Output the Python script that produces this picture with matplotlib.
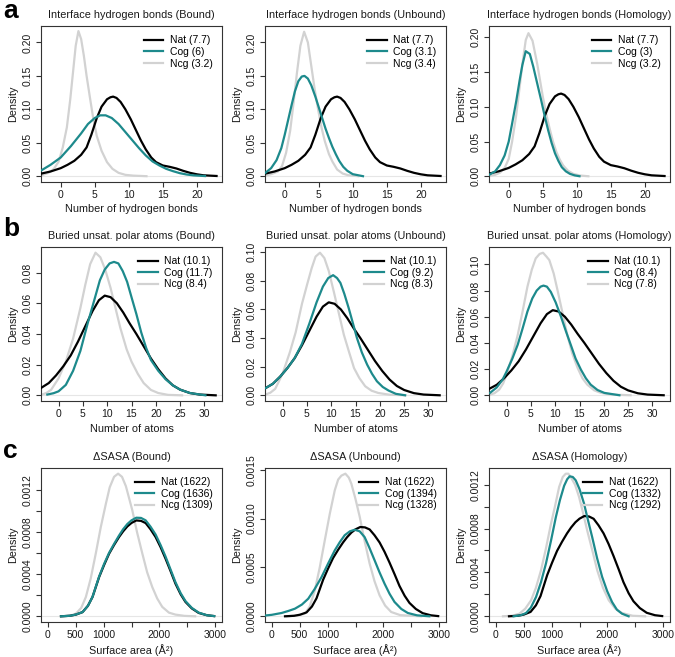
import numpy as np
import matplotlib.pyplot as plt

plt.rcParams['font.family'] = ['Liberation Sans', 'DejaVu Sans']

NAT_COL = 'black'
COG_COL = '#1d8a8c'
NCG_COL = '#d2d2d2'

# ---- row a: interface hydrogen bonds ----
hb_nat_x = [-2.8, -1.5, 0, 1, 2, 3, 3.8, 4.5, 5.3, 6, 6.8, 7.3, 7.7, 8.2, 8.8, 9.5, 10.3, 11,
            11.8, 12.5, 13.3, 14, 15, 16, 17, 18, 19, 20, 21, 22.9]
hb_nat_y = [0.004, 0.007, 0.012, 0.017, 0.023, 0.032, 0.043, 0.062, 0.087, 0.104, 0.115, 0.118,
            0.119, 0.117, 0.111, 0.100, 0.085, 0.070, 0.053, 0.040, 0.028, 0.021, 0.016, 0.014,
            0.0115, 0.008, 0.005, 0.0028, 0.0013, 0.0003]

hb_cog_bound_x = [-2.8, -1.5, 0, 1.5, 3, 4, 5, 5.8, 6.6, 7.5, 8.5, 9.5, 10.5, 11.5, 12.5, 13.5,
                  14.5, 15.5, 16.5, 17.5, 18.5, 19.5, 21.2]
hb_cog_bound_y = [0.009, 0.017, 0.028, 0.045, 0.064, 0.078, 0.087, 0.091, 0.091, 0.087, 0.078,
                  0.066, 0.054, 0.042, 0.031, 0.022, 0.016, 0.011, 0.0075, 0.0045, 0.0025,
                  0.0012, 0.0002]
hb_ncg_bound_x = [-2.8, -1.8, -1, -0.3, 0.3, 0.9, 1.4, 1.8, 2.2, 2.6, 3.0, 3.4, 3.8, 4.3, 4.8,
                  5.3, 6, 6.8, 7.6, 8.5, 9.5, 10.7, 12.6]
hb_ncg_bound_y = [0.0015, 0.005, 0.011, 0.022, 0.043, 0.073, 0.115, 0.155, 0.195, 0.217, 0.205,
                  0.180, 0.150, 0.117, 0.085, 0.060, 0.038, 0.021, 0.011, 0.005, 0.002, 0.0008, 0.0]

hb_cog_unbound_x = [-2.85, -2, -1.2, -0.5, 0, 0.5, 1, 1.5, 2, 2.5, 2.9, 3.4, 3.9, 4.5, 5, 5.5,
                    6, 6.5, 7, 7.5, 8, 8.6, 9.2, 10, 11.5]
hb_cog_unbound_y = [0.005, 0.012, 0.024, 0.042, 0.062, 0.084, 0.106, 0.127, 0.142, 0.149, 0.150,
                    0.146, 0.136, 0.119, 0.103, 0.087, 0.071, 0.057, 0.044, 0.033, 0.023, 0.014,
                    0.008, 0.003, 0.0]
hb_ncg_unbound_x = [-2.85, -2, -1, -0.4, 0.2, 0.8, 1.3, 1.8, 2.3, 2.85, 3.4, 3.9, 4.4, 4.9, 5.4,
                    5.9, 6.5, 7, 7.7, 8.5, 9.3, 10.8]
hb_ncg_unbound_y = [0.001, 0.003, 0.007, 0.015, 0.035, 0.068, 0.110, 0.155, 0.195, 0.216, 0.200,
                    0.165, 0.130, 0.100, 0.073, 0.052, 0.033, 0.022, 0.010, 0.004, 0.0015, 0.0]

hb_cog_homol_x = [-2.9, -2, -1.3, -0.6, 0, 0.5, 1.1, 1.6, 2, 2.5, 3.1, 3.6, 4.2, 4.8, 5.3, 5.8,
                  6.3, 6.8, 7.3, 7.8, 8.4, 9, 9.7, 10.4]
hb_cog_homol_y = [0.002, 0.007, 0.016, 0.030, 0.050, 0.076, 0.108, 0.138, 0.160, 0.180, 0.176,
                  0.158, 0.133, 0.108, 0.086, 0.066, 0.048, 0.033, 0.022, 0.013, 0.007, 0.0034,
                  0.0012, 0.0]
hb_ncg_homol_x = [-2.9, -2, -1.3, -0.6, 0, 0.5, 1.1, 1.6, 2, 2.5, 2.9, 3.5, 4.2, 5, 5.5, 6, 6.5,
                  7, 7.5, 8, 8.7, 9.5, 10.5, 11.7]
hb_ncg_homol_y = [0.0005, 0.002, 0.005, 0.012, 0.025, 0.050, 0.088, 0.128, 0.161, 0.196, 0.206,
                  0.195, 0.161, 0.115, 0.090, 0.069, 0.050, 0.035, 0.024, 0.0155, 0.008, 0.0034,
                  0.001, 0.0]

# ---- row b: buried unsatisfied polar atoms ----
bu_nat_x = [-3.5, -2, -0.5, 1, 2.5, 4, 5.5, 7, 8.3, 9.5, 10.7, 12, 13.3, 14.6, 16, 17.5, 19,
            20.5, 22, 23.5, 25, 27, 29, 32.3]
bu_nat_y = [0.005, 0.008, 0.013, 0.019, 0.026, 0.035, 0.045, 0.055, 0.062, 0.065, 0.064, 0.060,
            0.054, 0.047, 0.040, 0.032, 0.024, 0.017, 0.011, 0.0065, 0.0037, 0.0015, 0.0005, 0.0]

bu_cog_bound_x = [-2.3, -1, 0, 1.5, 3, 4.5, 6, 7.3, 8.5, 9.5, 10.5, 11.4, 12.3, 13.2, 14.1, 15,
                  16, 17, 18, 19, 20.5, 22, 23.5, 25, 27, 30.2]
bu_cog_bound_y = [0.0005, 0.0014, 0.0026, 0.0068, 0.016, 0.029, 0.047, 0.0615, 0.075, 0.082,
                  0.086, 0.087, 0.086, 0.081, 0.074, 0.064, 0.053, 0.041, 0.031, 0.023, 0.016,
                  0.0105, 0.0065, 0.0037, 0.0015, 0.0]
bu_ncg_bound_x = [-3.5, -2.5, -1.5, 0, 1.5, 3, 4.5, 5.5, 6.5, 7.6, 8.6, 9.6, 10.7, 11.7, 12.7,
                  14, 15, 16.3, 17.5, 19, 20.5, 22.5, 25.4]
bu_ncg_bound_y = [0.0004, 0.0015, 0.0037, 0.011, 0.022, 0.037, 0.057, 0.072, 0.0855, 0.093,
                  0.090, 0.082, 0.070, 0.057, 0.044, 0.030, 0.022, 0.014, 0.008, 0.0035, 0.0015,
                  0.0003, 0.0]

bu_cog_unbound_x = [-3.5, -2, -0.5, 1, 2.5, 4, 5.5, 7, 8.3, 9.4, 10.4, 11.2, 11.9, 12.7, 13.6,
                    14.5, 15.3, 16.3, 17.4, 18.4, 19.4, 20.6, 21.8, 23.3, 25.2]
bu_cog_unbound_y = [0.005, 0.008, 0.013, 0.019, 0.026, 0.036, 0.050, 0.065, 0.076, 0.082, 0.084,
                    0.082, 0.0786, 0.071, 0.061, 0.050, 0.040, 0.030, 0.0214, 0.015, 0.0098,
                    0.0058, 0.0033, 0.001, 0.0]
bu_ncg_unbound_x = [-3.5, -2.5, -1.5, 0, 1.5, 2.7, 4, 5.1, 6, 6.8, 7.7, 8.6, 9.5, 10.6, 11.6,
                    12.6, 13.7, 14.7, 15.8, 17, 18.3, 19.7, 22, 25.2]
bu_ncg_unbound_y = [0.0005, 0.0018, 0.0045, 0.0150, 0.030, 0.044, 0.064, 0.078, 0.089, 0.097,
                    0.0997, 0.096, 0.087, 0.0716, 0.057, 0.0424, 0.030, 0.019, 0.012, 0.0063,
                    0.0032, 0.0016, 0.0004, 0.0]

bu_cog_homol_x = [-3.4, -2, -0.8, 0, 1.2, 2.3, 3.3, 4.3, 5.3, 6.2, 7, 7.6, 8.3, 9.1, 10.1, 11.2,
                  12.2, 13.2, 14.2, 15.3, 16.3, 17.3, 18.7, 20.1, 23.2]
bu_cog_homol_y = [0.0018, 0.006, 0.012, 0.018, 0.028, 0.0386, 0.051, 0.064, 0.074, 0.080, 0.083,
                  0.0838, 0.083, 0.079, 0.071, 0.060, 0.049, 0.0386, 0.028, 0.0195, 0.013,
                  0.0081, 0.004, 0.0018, 0.0]
bu_ncg_homol_x = [-3.4, -2.5, -1.5, -0.7, 0, 1.2, 2.3, 3.3, 4.3, 5.2, 6, 6.8, 7.5, 8.2, 8.8, 9.7,
                  10.5, 11.5, 12.5, 13.5, 14.6, 15.6, 16.6, 18, 19.4, 21.5, 25.5]
bu_ncg_homol_y = [0.0005, 0.0015, 0.0043, 0.009, 0.0157, 0.030, 0.046, 0.064, 0.083, 0.096,
                  0.1046, 0.108, 0.1089, 0.106, 0.1033, 0.093, 0.080, 0.063, 0.046, 0.032, 0.021,
                  0.013, 0.0081, 0.0038, 0.0018, 0.0005, 0.0]

# ---- row c: delta SASA (densities in units of 1e-4) ----
sa_nat_x = [238, 400, 505, 624, 720, 802, 921, 1010, 1099, 1188, 1277, 1350, 1426, 1500, 1586,
            1670, 1753, 1840, 1931, 2020, 2109, 2200, 2287, 2380, 2466, 2580, 2703, 2850, 2980]
sa_nat_y = [0.0, 0.05, 0.16, 0.4, 1.0, 1.84, 3.75, 4.9, 5.97, 6.8, 7.56, 8.1, 8.57, 8.9, 9.14,
            9.1, 8.89, 8.3, 7.56, 6.6, 5.5, 4.3, 3.11, 2.1, 1.37, 0.75, 0.32, 0.1, 0.02]

sa_cog_bound_x = sa_nat_x
sa_cog_bound_y = [0.0, 0.05, 0.17, 0.4, 1.0, 1.85, 3.8, 5.0, 6.05, 6.9, 7.7, 8.3, 8.8, 9.15, 9.4,
                  9.38, 9.15, 8.55, 7.8, 6.8, 5.7, 4.45, 3.25, 2.2, 1.45, 0.8, 0.35, 0.1, 0.02]
sa_ncg_bound_x = [238, 400, 505, 600, 683, 770, 861, 950, 1040, 1110, 1188, 1260, 1330, 1400,
                  1515, 1600, 1693, 1780, 1871, 1960, 2050, 2170, 2287, 2450, 2640]
sa_ncg_bound_y = [0.0, 0.05, 0.25, 0.8, 1.84, 3.6, 6.0, 8.5, 10.7, 12.3, 13.3, 13.6, 13.3, 12.4,
                  10.1, 8.0, 6.0, 4.2, 2.8, 1.7, 0.9, 0.35, 0.16, 0.04, 0.0]

sa_cog_unbound_x = [-130, 0, 178, 300, 416, 540, 654, 770, 891, 1010, 1129, 1220, 1307, 1400,
                    1485, 1575, 1664, 1750, 1842, 1930, 2020, 2110, 2198, 2320, 2436, 2600, 2822]
sa_cog_unbound_y = [0.07, 0.15, 0.34, 0.55, 0.78, 1.2, 1.8, 2.8, 4.0, 5.4, 6.75, 7.6, 8.3, 8.7,
                    8.86, 8.7, 8.1, 7.0, 5.73, 4.5, 3.34, 2.3, 1.47, 0.75, 0.34, 0.1, 0.0]
sa_ncg_unbound_x = [267, 450, 594, 680, 772, 860, 951, 1040, 1129, 1190, 1248, 1319, 1380, 1426,
                    1500, 1575, 1660, 1753, 1840, 1931, 2030, 2139, 2300, 2436, 2674]
sa_ncg_unbound_y = [0.0, 0.08, 0.27, 1.0, 2.66, 5.0, 7.8, 10.5, 12.9, 14.0, 14.4, 14.6, 14.2,
                    13.57, 12.0, 10.2, 7.8, 5.4, 3.6, 2.15, 1.1, 0.44, 0.12, 0.07, 0.0]

sa_cog_homol_x = [320, 450, 544, 630, 722, 810, 899, 990, 1077, 1150, 1225, 1280, 1325, 1380,
                  1432, 1500, 1580, 1650, 1728, 1815, 1905, 1995, 2083, 2170, 2260, 2379]
sa_cog_homol_y = [0.0, 0.1, 0.3, 0.8, 1.76, 3.1, 4.8, 6.9, 9.05, 10.6, 11.9, 12.5, 12.76, 12.7,
                  12.4, 11.6, 10.3, 8.8, 7.2, 5.3, 3.6, 2.3, 1.3, 0.6, 0.24, 0.0]
sa_ncg_homol_x = [130, 300, 426, 530, 633, 720, 811, 900, 988, 1060, 1136, 1200, 1254, 1300,
                  1343, 1420, 1491, 1560, 1639, 1730, 1817, 1920, 2024, 2140, 2260, 2450, 2674]
sa_ncg_homol_y = [0.0, 0.05, 0.24, 0.7, 1.46, 2.6, 4.2, 6.2, 8.4, 10.0, 11.8, 12.7, 13.0, 13.0,
                  12.7, 12.0, 10.9, 9.5, 7.8, 6.0, 4.2, 2.6, 1.46, 0.7, 0.3, 0.05, 0.0]

conditions = ['Bound', 'Unbound', 'Homology']

# legend labels (means)
hb_labels = [['Nat (7.7)', 'Cog (6)', 'Ncg (3.2)'],
             ['Nat (7.7)', 'Cog (3.1)', 'Ncg (3.4)'],
             ['Nat (7.7)', 'Cog (3)', 'Ncg (3.2)']]
bu_labels = [['Nat (10.1)', 'Cog (11.7)', 'Ncg (8.4)'],
             ['Nat (10.1)', 'Cog (9.2)', 'Ncg (8.3)'],
             ['Nat (10.1)', 'Cog (8.4)', 'Ncg (7.8)']]
sa_labels = [['Nat (1622)', 'Cog (1636)', 'Ncg (1309)'],
             ['Nat (1622)', 'Cog (1394)', 'Ncg (1328)'],
             ['Nat (1622)', 'Cog (1332)', 'Ncg (1292)']]

W, H = 675, 657
fig = plt.figure(figsize=(W / 100, H / 100), dpi=100)

col_left = [41, 265, 489]
col_w = 181
row_box = [(26, 182), (247, 401), (468, 622)]  # (top, bottom) in px


def make_ax(r, c):
    top, bot = row_box[r]
    return fig.add_axes([col_left[c] / W, 1 - bot / H, col_w / W, (bot - top) / H])


def style_ax(ax, title, xlabel, xlim, ylim, xticks, xticklabels, yticks, yticklabels, labels):
    ax.set_xlim(*xlim)
    ax.set_ylim(*ylim)
    ax.axhline(0, color='#e6e6e6', lw=0.8, zorder=1)
    ax.set_xticks(xticks)
    ax.set_xticklabels(xticklabels)
    ax.set_yticks(yticks)
    ax.set_yticklabels(yticklabels, rotation=90, va='center')
    ax.tick_params(direction='out', length=3.5, width=0.8, labelsize=7.5, pad=2.5,
                   colors='#333333', labelcolor='#1a1a1a')
    for s in ax.spines.values():
        s.set_color('#333333')
        s.set_linewidth(0.8)
    ax.set_title(title, fontsize=7.8, pad=6, color='#1a1a1a')
    ax.set_xlabel(xlabel, fontsize=7.8, labelpad=3, color='#1a1a1a')
    ax.set_ylabel('Density', fontsize=7.8, labelpad=3, color='#1a1a1a')
    leg = ax.legend(labels, loc='upper right', frameon=False, fontsize=7.5, handlelength=1.9,
                    handletextpad=0.6, labelspacing=0.15, borderaxespad=0.5)
    return leg


# row a
hb_cog = [(hb_cog_bound_x, hb_cog_bound_y), (hb_cog_unbound_x, hb_cog_unbound_y),
          (hb_cog_homol_x, hb_cog_homol_y)]
hb_ncg = [(hb_ncg_bound_x, hb_ncg_bound_y), (hb_ncg_unbound_x, hb_ncg_unbound_y),
          (hb_ncg_homol_x, hb_ncg_homol_y)]
hb_ylims = [(-0.0087, 0.2246), (-0.0087, 0.2246), (-0.0083, 0.2163)]
for c in range(3):
    ax = make_ax(0, c)
    ax.plot(hb_nat_x, hb_nat_y, color=NAT_COL, lw=1.6, zorder=3)
    ax.plot(hb_cog[c][0], hb_cog[c][1], color=COG_COL, lw=1.6, zorder=4)
    ax.plot(hb_ncg[c][0], hb_ncg[c][1], color=NCG_COL, lw=1.6, zorder=2.5)
    yt = [0, 0.05, 0.10, 0.15, 0.20]
    style_ax(ax, 'Interface hydrogen bonds (%s)' % conditions[c], 'Number of hydrogen bonds',
             (-2.9, 23.7), hb_ylims[c], [0, 5, 10, 15, 20], ['0', '5', '10', '15', '20'],
             yt, ['%.2f' % v for v in yt], hb_labels[c])

# row b
bu_cog = [(bu_cog_bound_x, bu_cog_bound_y), (bu_cog_unbound_x, bu_cog_unbound_y),
          (bu_cog_homol_x, bu_cog_homol_y)]
bu_ncg = [(bu_ncg_bound_x, bu_ncg_bound_y), (bu_ncg_unbound_x, bu_ncg_unbound_y),
          (bu_ncg_homol_x, bu_ncg_homol_y)]
bu_ylims = [(-0.0037, 0.0967), (-0.004, 0.1037), (-0.0044, 0.1133)]
bu_yticks = [[0, 0.02, 0.04, 0.06, 0.08], [0, 0.02, 0.04, 0.06, 0.08, 0.10],
             [0, 0.02, 0.04, 0.06, 0.08, 0.10]]
for c in range(3):
    ax = make_ax(1, c)
    ax.plot(bu_nat_x, bu_nat_y, color=NAT_COL, lw=1.6, zorder=3)
    ax.plot(bu_cog[c][0], bu_cog[c][1], color=COG_COL, lw=1.6, zorder=4)
    ax.plot(bu_ncg[c][0], bu_ncg[c][1], color=NCG_COL, lw=1.6, zorder=2.5)
    yt = bu_yticks[c]
    style_ax(ax, 'Buried unsat. polar atoms (%s)' % conditions[c], 'Number of atoms',
             (-3.6, 33.6), bu_ylims[c], [0, 5, 10, 15, 20, 25, 30],
             ['0', '5', '10', '15', '20', '25', '30'],
             yt, ['%.2f' % v for v in yt], bu_labels[c])

# row c
sa_cog = [(sa_cog_bound_x, sa_cog_bound_y), (sa_cog_unbound_x, sa_cog_unbound_y),
          (sa_cog_homol_x, sa_cog_homol_y)]
sa_ncg = [(sa_ncg_bound_x, sa_ncg_bound_y), (sa_ncg_unbound_x, sa_ncg_unbound_y),
          (sa_ncg_homol_x, sa_ncg_homol_y)]
sa_ylims = [(-0.0000544, 0.001414), (-0.0000584, 0.001518), (-0.000052, 0.001352)]
sa_xt = [0, 500, 1000, 1500, 2000, 2500, 3000]
sa_xtl = ['0', '500', '1000', '', '2000', '', '3000']
for c in range(3):
    ax = make_ax(2, c)
    ax.plot(sa_nat_x, np.array(sa_nat_y) * 1e-4, color=NAT_COL, lw=1.6, zorder=3)
    ax.plot(sa_cog[c][0], np.array(sa_cog[c][1]) * 1e-4, color=COG_COL, lw=1.6, zorder=4)
    ax.plot(sa_ncg[c][0], np.array(sa_ncg[c][1]) * 1e-4, color=NCG_COL, lw=1.6, zorder=2.5)
    if c == 1:
        yt = [0, 0.0005, 0.0010, 0.0015]
        ytl = ['%.4f' % v for v in yt]
    else:
        yt = [0, 0.0002, 0.0004, 0.0006, 0.0008, 0.0010, 0.0012]
        ytl = ['%.4f' % v if i % 2 == 0 else '' for i, v in enumerate(yt)]
    style_ax(ax, '\u0394SASA (%s)' % conditions[c], 'Surface area (\u00c5\u00b2)',
             (-120, 3120), sa_ylims[c], sa_xt, sa_xtl, yt, ytl, sa_labels[c])

# panel letters
for letter, base in zip(['a', 'b', 'c'], [18, 236, 458]):
    fig.text(3 / W, 1 - base / H, letter, fontsize=19, fontweight='bold', va='baseline',
             ha='left')

fig.savefig('out.png', dpi=100)
